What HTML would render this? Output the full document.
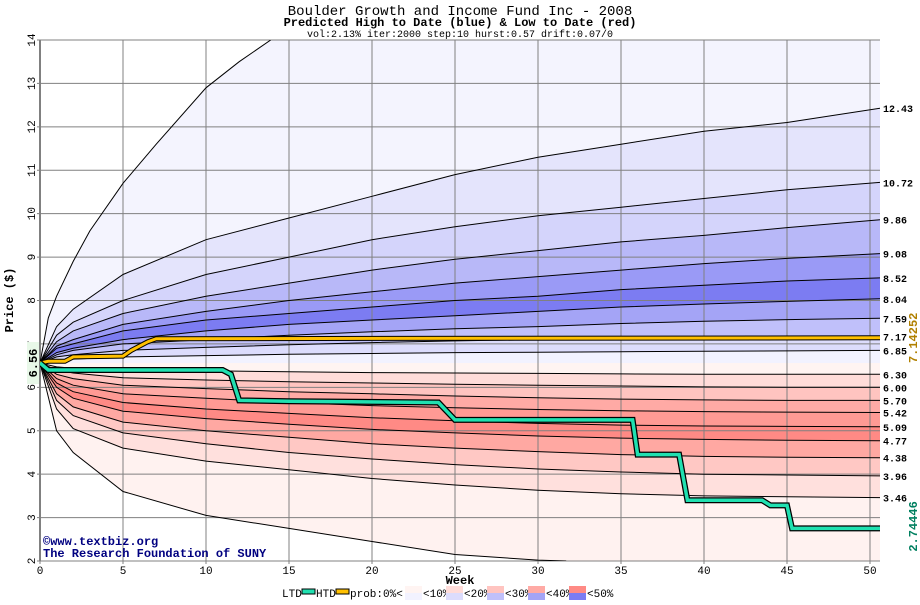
<!DOCTYPE html>
<html><head><meta charset="utf-8"><style>
body{margin:0;background:#fff;font-family:"Liberation Mono",monospace}
svg text{font-family:"Liberation Mono",monospace}
</style></head><body>
<svg id="c" width="920" height="600" xmlns="http://www.w3.org/2000/svg">
<text x="460" y="15" text-anchor="middle" font-size="14">Boulder Growth and Income Fund Inc - 2008</text>
<text x="460" y="26" text-anchor="middle" font-size="12" font-weight="bold">Predicted High to Date (blue) &amp;  Low to Date (red)</text>
<text x="460" y="37" text-anchor="middle" font-size="10">vol:2.13% iter:2000 step:10 hurst:0.57 drift:0.07/0</text>
<g id="bands"></g><g id="grid"></g><g id="lines"></g>
<text x="43" y="545" font-size="12" font-weight="bold" fill="#000080">©www.textbiz.org</text>
<text x="43" y="557" font-size="12" font-weight="bold" fill="#000080">The Research Foundation of SUNY</text>
<text x="460" y="584" text-anchor="middle" font-size="12" font-weight="bold">Week</text>
<text transform="translate(13,300) rotate(-90)" text-anchor="middle" font-size="12" font-weight="bold">Price ($)</text>
<g id="legend"></g>
</svg>
<script>
const weeks=[0,1,2,5,10,15,20,25,30,35,40,45,50.6];
const upperLines=[
[6.56,7.4,7.8,8.6,9.4,9.9,10.4,10.9,11.3,11.6,11.9,12.1,12.43],
[6.56,7.2,7.5,8.0,8.6,9.0,9.4,9.7,9.95,10.15,10.35,10.55,10.72],
[6.56,7.05,7.3,7.7,8.1,8.4,8.7,8.95,9.15,9.35,9.5,9.68,9.86],
[6.56,6.95,7.1,7.45,7.75,8.0,8.2,8.4,8.55,8.7,8.85,8.97,9.08],
[6.56,6.9,7.0,7.3,7.55,7.7,7.85,8.0,8.1,8.25,8.35,8.45,8.52],
[6.56,6.8,6.9,7.1,7.3,7.45,7.55,7.65,7.75,7.85,7.92,7.98,8.04],
[6.56,6.75,6.85,7.0,7.1,7.2,7.28,7.35,7.4,7.47,7.52,7.56,7.59],
[6.56,6.7,6.75,6.85,6.92,6.98,7.03,7.07,7.1,7.12,7.14,7.16,7.17],
[6.56,6.62,6.65,6.7,6.73,6.76,6.78,6.8,6.81,6.82,6.83,6.84,6.85]];
const lowerLines=[
[6.56,6.47,6.44,6.4,6.38,6.36,6.34,6.33,6.32,6.31,6.3,6.3,6.30],
[6.56,6.4,6.33,6.22,6.17,6.13,6.1,6.07,6.05,6.03,6.01,6.0,6.00],
[6.56,6.3,6.2,6.05,5.97,5.9,5.85,5.8,5.76,5.73,5.71,5.7,5.70],
[6.56,6.2,6.05,5.85,5.75,5.65,5.58,5.53,5.49,5.46,5.44,5.43,5.42],
[6.56,6.1,5.9,5.65,5.5,5.4,5.3,5.23,5.17,5.13,5.11,5.1,5.09],
[6.56,6.0,5.75,5.45,5.28,5.15,5.03,4.95,4.88,4.83,4.8,4.78,4.77],
[6.56,5.85,5.55,5.2,5.0,4.85,4.7,4.6,4.52,4.45,4.41,4.39,4.38],
[6.56,5.7,5.35,4.95,4.7,4.5,4.35,4.22,4.12,4.05,4.0,3.98,3.96],
[6.56,5.5,5.05,4.6,4.3,4.1,3.9,3.75,3.63,3.55,3.5,3.48,3.46]];
const rightLabels=["12.43","10.72","9.86","9.08","8.52","8.04","7.59","7.17","6.85","6.30","6.00","5.70","5.42","5.09","4.77","4.38","3.96","3.46"];
const outerTopWeeks=[0,0.5,1,2,3,5,7,10,12,13.9,50.6];
const outerTopVals=[6.56,7.6,8.1,8.9,9.6,10.7,11.6,12.9,13.5,14,14];
const outerBotWeeks=[0,1,2,5,10,15,20,25,30,31.7];
const outerBotVals=[6.56,5.0,4.5,3.6,3.05,2.75,2.45,2.15,2.02,2.0];
const htdWeeks=[0,0.5,1.5,2,5,5.5,6.5,7,50.6];
const htdVals=[6.56,6.6,6.6,6.7,6.72,6.85,7.05,7.12,7.14];
const ltdWeeks=[0,0.5,11,11.5,12,15,24,24.5,25,35.7,36,38.5,39,43.5,44,45,45.3,50.6];
const ltdVals=[6.56,6.4,6.4,6.3,5.7,5.68,5.65,5.45,5.25,5.25,4.45,4.45,3.4,3.4,3.28,3.28,2.75,2.75];
const xTicks=[0,5,10,15,20,25,30,35,40,45,50];
const yTicks=[2,3,4,5,6,7,8,9,10,11,12,13,14];
const upColors=["#f4f4fe","#e4e4fc","#d4d4fb","#b8b8f8","#9a9af6","#7c7cf2","#a4a4f6","#c0c0fa","#dcdcfc","#f2f2ff"];
const loColors=["#fff4f2","#ffdcd9","#ffc4c0","#ffaaa5","#ff9a94","#ff8a85","#ffa8a2","#ffc8c4","#ffe0dd","#fff2f0"];
const L=40,R=880,T=40,B=561;
const X=w=>L+w*16.6, Y=p=>T+(14-p)*(B-T)/12;
const NS="http://www.w3.org/2000/svg";
function mk(tag,attrs,parent){const e=document.createElementNS(NS,tag);for(const k in attrs)e.setAttribute(k,attrs[k]);document.getElementById(parent).appendChild(e);return e;}
function pts(ws,vs){return ws.map((w,i)=>X(w).toFixed(1)+","+Y(Math.min(14,Math.max(2,vs[i]))).toFixed(1));}
const defs=document.createElementNS(NS,"defs");defs.innerHTML='<clipPath id="pc"><rect x="'+L+'" y="'+T+'" width="'+(R-L)+'" height="'+(B-T)+'"/></clipPath>';document.getElementById('c').prepend(defs);
document.getElementById('bands').setAttribute('clip-path','url(#pc)');
document.getElementById('lines').setAttribute('clip-path','url(#pc)');
const upAll=[{w:outerTopWeeks,v:outerTopVals}].concat(upperLines.map(v=>({w:weeks,v})));
const mid={w:[0,50.6],v:[6.56,6.56]};
upAll.push(mid);
for(let i=0;i<upAll.length-1;i++){
 const a=upAll[i],b=upAll[i+1];
 const p=pts(a.w,a.v).concat(pts(b.w,b.v).reverse());
 const el=mk('polygon',{points:p.join(' '),fill:upColors[i]},'bands');
 
 
}
const botExt={w:outerBotWeeks.concat([50.6]),v:outerBotVals.concat([2.0])};
const loAll=[mid].concat(lowerLines.map(v=>({w:weeks,v}))).concat([botExt]);
for(let i=0;i<loAll.length-1;i++){
 const a=loAll[i],b=loAll[i+1];
 const p=pts(a.w,a.v).concat(pts(b.w,b.v).reverse());
 const el=mk('polygon',{points:p.join(' '),fill:loColors[i]},'bands');
 
 
}
xTicks.forEach(t=>{
 const l=mk('line',{x1:X(t),x2:X(t),y1:T,y2:B+3,stroke:'#808080','stroke-width':1},'grid');
 
 
 const tx=mk('text',{x:X(t),y:B+13,'text-anchor':'middle','font-size':11},'grid');tx.textContent=t;
 
 
});
yTicks.forEach(t=>{
 const l=mk('line',{x1:L-3,x2:R,y1:Y(t),y2:Y(t),stroke:'#808080','stroke-width':1},'grid');
 
 
 const tx=mk('text',{transform:'translate('+(L-5)+','+Y(t)+') rotate(-90)','text-anchor':'middle','font-size':11},'grid');tx.textContent=t;
 
 
});
mk('line',{x1:L,x2:L,y1:T,y2:B,stroke:'#808080','stroke-width':2},'grid');
const allLines=[{w:outerTopWeeks.slice(0,10),v:outerTopVals.slice(0,10)}].concat(upperLines.map(v=>({w:weeks,v}))).concat(lowerLines.map(v=>({w:weeks,v}))).concat([{w:outerBotWeeks,v:outerBotVals}]);
allLines.forEach((s,i)=>{
 const el=mk('polyline',{points:pts(s.w,s.v).join(' '),fill:'none',stroke:'#000','stroke-width':1},'lines');
 
 
});
function step(ws,vs){const o=[];for(let i=0;i<ws.length;i++){o.push(X(ws[i]).toFixed(1)+","+Y(vs[i]).toFixed(1));}return o.join(' ');}
[['#000',5],['#ffc000',3]].forEach(([c,w])=>{const e=mk('polyline',{points:step(htdWeeks,htdVals),fill:'none',stroke:c,'stroke-width':w},'lines');
 
 });
[['#000',6],['#20e0b0',3.5]].forEach(([c,w])=>{const e=mk('polyline',{points:step(ltdWeeks,ltdVals),fill:'none',stroke:c,'stroke-width':w},'lines');
 
 });
const rv=upperLines.map(a=>a[a.length-1]).concat(lowerLines.map(a=>a[a.length-1]));
rv.forEach((v,i)=>{
 const t=mk('text',{x:883,y:Y(v)+4,'font-size':10,'font-weight':'bold'},'grid');t.textContent=rightLabels[i];
 
 
});
const hl=mk('text',{transform:'translate(917,'+Y(7.14)+') rotate(-90)','text-anchor':'middle','font-size':12,'font-weight':'bold',fill:'#b08000'},'grid');hl.textContent='7.14252';


const ll=mk('text',{transform:'translate(917,'+(Y(2.75)-2)+') rotate(-90)','text-anchor':'middle','font-size':12,'font-weight':'bold',fill:'#008060'},'grid');ll.textContent='2.74446';


const sr=mk('rect',{x:27,y:Y(6.56)-21,width:12,height:42,fill:'#e8f8e8'},'grid');


const sl=mk('text',{transform:'translate(37,'+Y(6.56)+') rotate(-90)','text-anchor':'middle','font-size':12,'font-weight':'bold'},'grid');sl.textContent='6.56';


const ly=597;
function lt(x,s){const t=mk('text',{x:x,y:ly,'font-size':11},'legend');t.textContent=s;
 
 return t;}
lt(282,'LTD');mk('rect',{x:302,y:589,width:13,height:5,fill:'#20e0b0',stroke:'#000','stroke-width':1},'legend');
lt(316,'HTD');mk('rect',{x:336,y:589,width:13,height:5,fill:'#ffc000',stroke:'#000','stroke-width':1},'legend');
lt(350,'prob:0%<');
const lab=['<10%','<20%','<30%','<40%','<50%'];
const lc=[[loColors[0],upColors[9]],[loColors[1],upColors[8]],[loColors[2],upColors[7]],[loColors[3],upColors[6]],[loColors[5],upColors[5]]];
lab.forEach((s,i)=>{const x=405+i*41;
 mk('rect',{x:x,y:586,width:17,height:7,fill:lc[i][0]},'legend');
 mk('rect',{x:x,y:593,width:17,height:7,fill:lc[i][1]},'legend');
 lt(x+18,s);});
</script>
</body></html>
